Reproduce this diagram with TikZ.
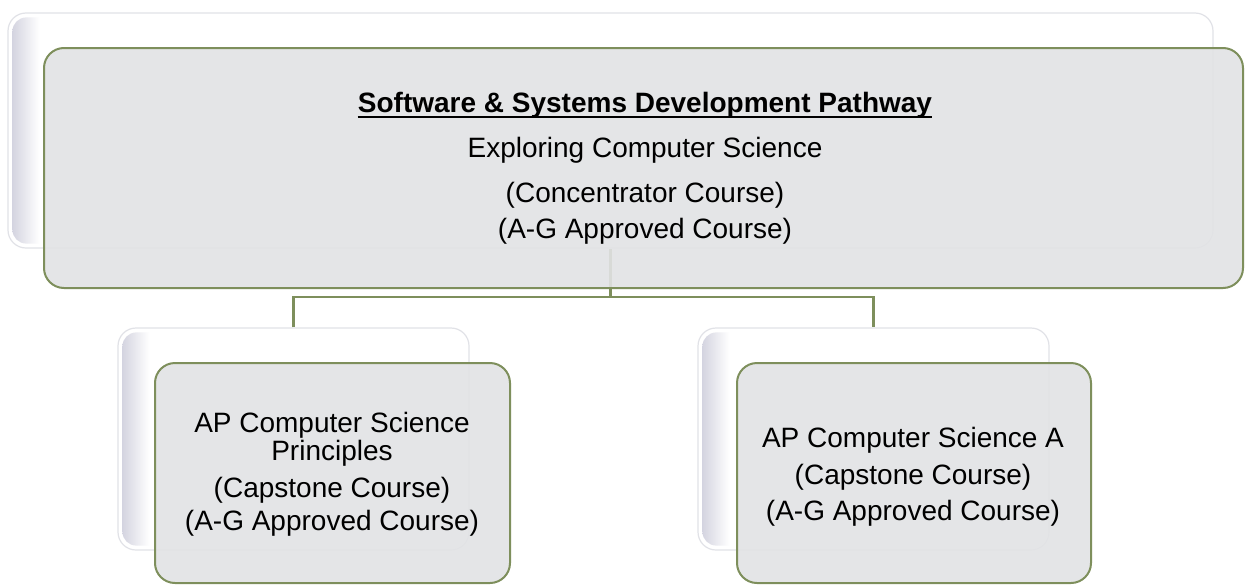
\documentclass[tikz,border=0pt]{standalone}
\usepackage{fontspec}
\setmainfont{Liberation Sans}
\usetikzlibrary{calc}
\definecolor{frameG}{HTML}{7E8F5C}
\definecolor{boxfill}{HTML}{E2E3E5}
\definecolor{backedge}{HTML}{E1E2E7}
\definecolor{bevelc}{HTML}{D4D4E0}
\tikzset{
 backbox/.style={draw=backedge, line width=1.2pt, fill=white, rounded corners=18pt, inner sep=0pt},
 frontbox/.style={draw=frameG, line width=2pt, fill=boxfill, fill opacity=0.9, rounded corners=20pt, inner sep=0pt},
 conn/.style={draw=frameG, line width=2.2pt},
 txt/.style={anchor=base, inner sep=0pt, font=\fontsize{28}{34}\selectfont},
 ttl/.style={anchor=base, inner sep=0pt, font=\fontsize{28}{34}\selectfont\bfseries},
}
\newcommand\bevelbox[1]{%
 \begin{scope}
 \clip[rounded corners=14pt] ($(#1.south west)+(5,-5)$) rectangle ($(#1.north east)+(-5,5)$);
 \shade[left color=bevelc, right color=white] ($(#1.south west)+(5,0)$) rectangle ($(#1.north west)+(32,0)$);
 \end{scope}}
\begin{document}
\begin{tikzpicture}[x=1pt,y=-1pt]
\useasboundingbox[fill=white] (0,0) rectangle (1245,584);
% back boxes
\node[backbox, minimum width=1205pt, minimum height=235pt] (tb) at (610.5,130.5) {};
\node[backbox, minimum width=351pt, minimum height=222pt] (lb) at (293.5,439) {};
\node[backbox, minimum width=351pt, minimum height=222pt] (rb) at (873.5,439) {};
\bevelbox{tb}
\bevelbox{lb}
\bevelbox{rb}
% connectors
\coordinate (j) at ($(tb.south)+(0,48)$);
\draw[conn] (tb.south) -- (j);
\draw[conn] (lb.north) |- (j) -| (rb.north);
% front boxes
\node[frontbox, minimum width=1199pt, minimum height=240pt] (tf) at (643.5,168) {};
\node[frontbox, minimum width=355pt, minimum height=220pt] (lf) at (332.5,473) {};
\node[frontbox, minimum width=354pt, minimum height=220pt] (rf) at (914,473) {};
% top texts
\node[ttl] (title) at (645,112) {Software \& Systems Development Pathway};
\draw[line width=2pt] ($(title.base west)+(0,4.5)$) -- ($(title.base east)+(0,4.5)$);
\node[txt] (t1) at (645,157) {Exploring Computer Science};
\node[txt] (t2) at (645,202) {(Concentrator Course)};
\node[txt] (t3) at (645,238) {(A-G Approved Course)};
% left texts
\node[txt] (l1) at (332,432) {AP Computer Science};
\node[txt] (l2) at (332,460) {Principles};
\node[txt] (l3) at (332,497) {(Capstone Course)};
\node[txt] (l4) at (332,530) {(A-G Approved Course)};
% right texts
\node[txt] (r1) at (913,447) {AP Computer Science A};
\node[txt] (r2) at (913,484) {(Capstone Course)};
\node[txt] (r3) at (913,520) {(A-G Approved Course)};
\end{tikzpicture}
\end{document}
